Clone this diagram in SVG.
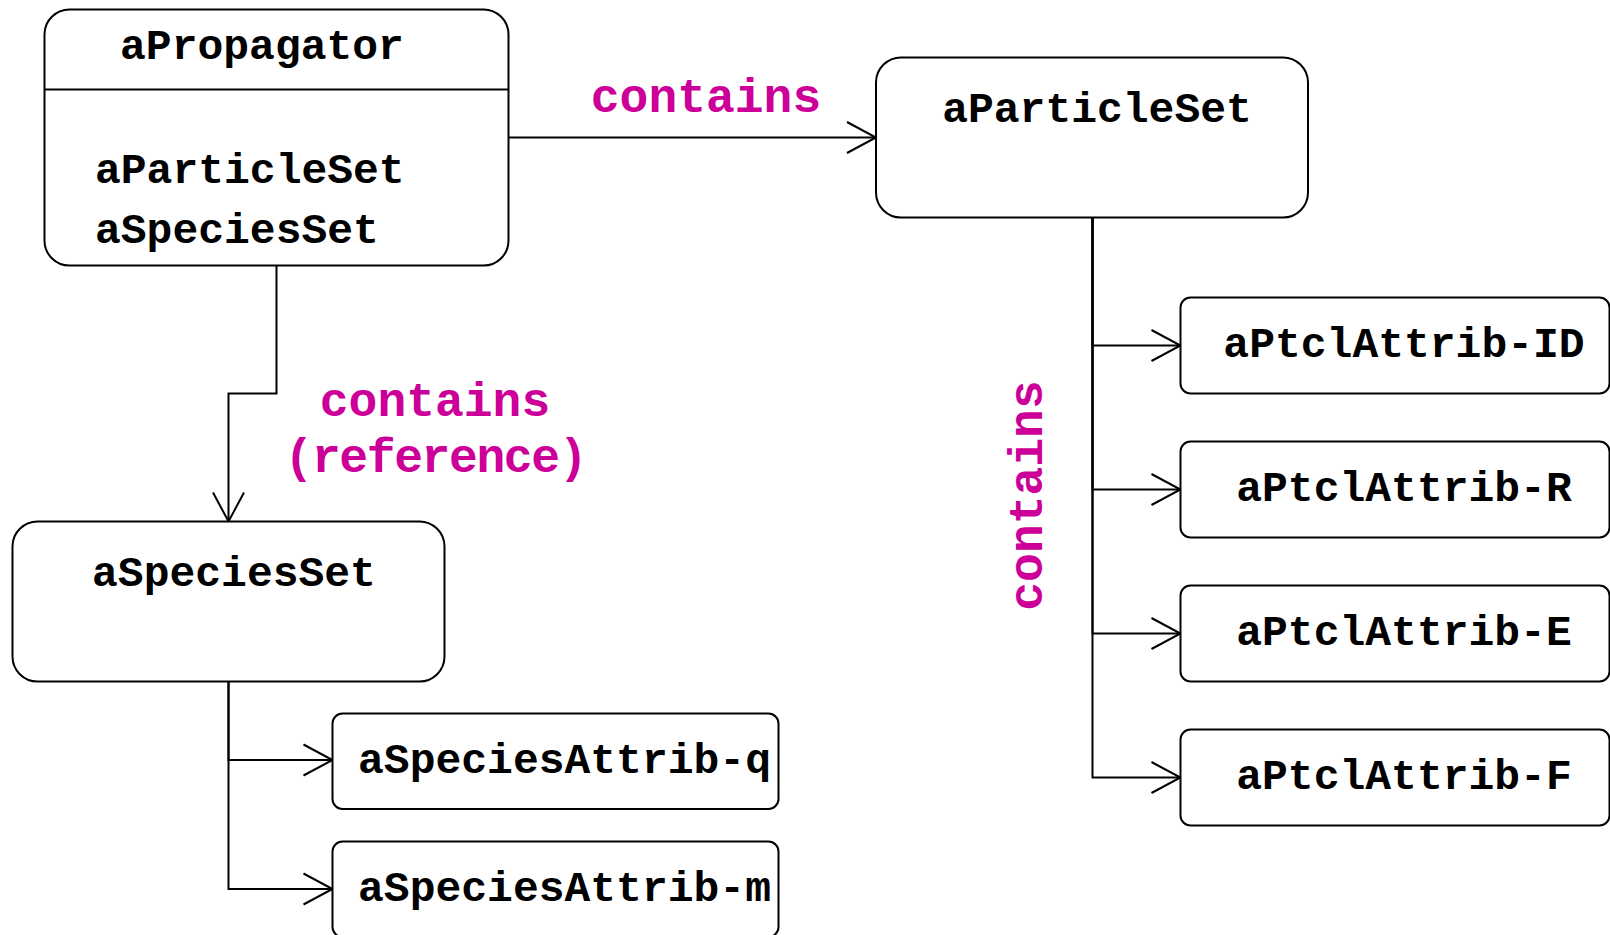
<svg xmlns="http://www.w3.org/2000/svg" width="1610" height="935" viewBox="0 0 1610 935">
  <style>
    .box { fill: #ffffff; stroke: #000000; stroke-width: 2; }
    .lbl { font-family: "Liberation Mono", "Courier New", monospace; font-weight: bold; font-size: 43px; fill: #000000; }
    .rel { font-family: "Liberation Mono", "Courier New", monospace; font-weight: bold; font-size: 48px; fill: #cc0099; }
    .edge { fill: none; stroke: #000000; stroke-width: 2; marker-end: url(#open); }
  </style>
  <defs>
    <marker id="open" markerUnits="userSpaceOnUse" markerWidth="40" markerHeight="40" refX="0" refY="0" viewBox="-32 -20 36 40" orient="auto" overflow="visible">
      <path d="M -29 -15.5 L 0 0 L -29 15.5" fill="none" stroke="#000000" stroke-width="2"/>
    </marker>
  </defs>

  <!-- connectors -->
  <g id="connectors">
    <path class="edge" d="M 508.5 137.5 H 876"/>
    <path class="edge" d="M 276.5 265.5 V 393.5 H 228.5 V 521.5"/>
    <path class="edge" d="M 1092.5 217.5 V 345.5 H 1180.5"/>
    <path class="edge" d="M 1092.5 217.5 V 489.5 H 1180.5"/>
    <path class="edge" d="M 1092.5 217.5 V 633.5 H 1180.5"/>
    <path class="edge" d="M 1092.5 217.5 V 777.5 H 1180.5"/>
    <path class="edge" d="M 228.5 681.5 V 760 H 332.5"/>
    <path class="edge" d="M 228.5 681.5 V 889 H 332.5"/>
    <text class="rel" x="706" y="112" text-anchor="middle">contains</text>
    <text class="rel" x="435" y="416" text-anchor="middle">contains</text>
    <text class="rel" x="436" y="472" text-anchor="middle" textLength="303">(reference)</text>
    <text class="rel" x="0" y="0" text-anchor="middle" transform="translate(1041.5 495.5) rotate(-90)">contains</text>
  </g>

  <!-- propagator with its two members -->
  <g id="aPropagator">
    <rect class="box" x="44.5" y="9.5" width="464" height="256" rx="25"/>
    <line x1="44.5" y1="89.5" x2="508.5" y2="89.5" stroke="#000000" stroke-width="2"/>
    <text class="lbl" x="262" y="59" text-anchor="middle">aPropagator</text>
    <text class="lbl" x="95" y="183">aParticleSet</text>
    <text class="lbl" x="95" y="243">aSpeciesSet</text>
  </g>

  <g id="aParticleSet">
    <rect class="box" x="876" y="57.5" width="432" height="160" rx="25"/>
    <text class="lbl" x="1097" y="122" text-anchor="middle">aParticleSet</text>
  </g>

  <g id="aSpeciesSet">
    <rect class="box" x="12.5" y="521.5" width="432" height="160" rx="25"/>
    <text class="lbl" x="234" y="586" text-anchor="middle">aSpeciesSet</text>
  </g>

  <g id="aSpeciesAttrib-q">
    <rect class="box" x="332.5" y="713.5" width="446" height="95.5" rx="10"/>
    <text class="lbl" x="564.5" y="773" text-anchor="middle">aSpeciesAttrib-q</text>
  </g>

  <g id="aSpeciesAttrib-m">
    <rect class="box" x="332.5" y="841.5" width="446" height="95.5" rx="10"/>
    <text class="lbl" x="564.5" y="901" text-anchor="middle">aSpeciesAttrib-m</text>
  </g>

  <g id="aPtclAttrib-ID">
    <rect class="box" x="1180.5" y="297.5" width="429" height="96" rx="10"/>
    <text class="lbl" x="1404" y="357" text-anchor="middle">aPtclAttrib-ID</text>
  </g>

  <g id="aPtclAttrib-R">
    <rect class="box" x="1180.5" y="441.5" width="429" height="96" rx="10"/>
    <text class="lbl" x="1404" y="501" text-anchor="middle">aPtclAttrib-R</text>
  </g>

  <g id="aPtclAttrib-E">
    <rect class="box" x="1180.5" y="585.5" width="429" height="96" rx="10"/>
    <text class="lbl" x="1404" y="645" text-anchor="middle">aPtclAttrib-E</text>
  </g>

  <g id="aPtclAttrib-F">
    <rect class="box" x="1180.5" y="729.5" width="429" height="96" rx="10"/>
    <text class="lbl" x="1404" y="789" text-anchor="middle">aPtclAttrib-F</text>
  </g>
</svg>
